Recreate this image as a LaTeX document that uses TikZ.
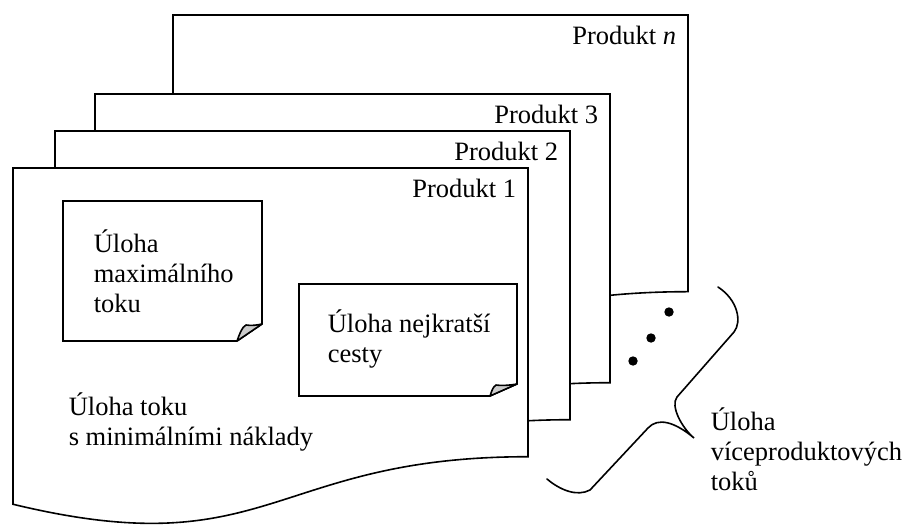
\documentclass[tikz,border=0pt]{standalone}
\usepackage{fontspec}
\setmainfont{Liberation Serif}

\begin{document}
\begin{tikzpicture}[x=1pt,y=-1pt,line width=1.6pt,
   sheet/.style={draw,fill=white},
   note/.style={draw,fill=white},
   fold/.style={draw,fill=gray!40,line join=round},
   label/.style={anchor=base west,inner sep=0pt,align=left,font=\fontsize{26.5}{30}\selectfont},
   tag/.style={anchor=base east,inner sep=0pt,font=\fontsize{26.5}{30}\selectfont}]
   \useasboundingbox (0,0) rectangle (904,525);
   \foreach \x/\y/\h/\nm/\lab in {173/15/345/pn/{Produkt \textit{n}},95/94/360/p3/{Produkt 3},55/131/360/p2/{Produkt 2},13/168/360/p1/{Produkt 1}}
   {
   \draw[sheet] (\x,\y) -- ({\x+515},\y) -- ({\x+515},{\y+0.802*\h}) .. controls ({\x+257.5},{\y+0.802*\h}) and ({\x+257.5},{\y+1.107*\h}) .. (\x,{\y+0.934*\h}) -- cycle;
   \node[tag] (\nm) at ({\x+504},{\y+29}) {\lab};
   }
   \draw[note] (63,201) -- (262,201) -- (262,324) -- (237,341) -- (63,341) -- cycle;
   \draw[fold] (237,341) .. controls (240,333) and (242,327) .. (246,325) .. controls (252,326) and (257,325) .. (262,324) -- cycle;
   \draw[note] (299,284) -- (517,284) -- (517,384) -- (490,396) -- (299,396) -- cycle;
   \draw[fold] (490,396) .. controls (492,390) and (493,387) .. (496,385) .. controls (504,386) and (511,385) .. (517,384) -- cycle;
   \node[label] (maxflow) at (93,312) {Úloha\\maximálního\\toku};
   \node[label] (shortpath) at (327,362) {Úloha nejkratší\\cesty};
   \node[label] (mincost) at (68,445) {Úloha toku\\s minimálními náklady};
   \fill (669,312) circle (4.7pt) (651,338) circle (4.7pt) (633,361) circle (4.7pt);
   \draw[line cap=round] (547,479) .. controls (560,490) and (577,497) .. (590,490) -- (648,428) .. controls (658,417) and (675,422) .. (694,438) .. controls (682,428) and (670,406) .. (677,397) -- (734,332) .. controls (742,322) and (738,300) .. (718,287);
   \node[label] (multi) at (710,490) {Úloha\\víceproduktových\\toků};
\end{tikzpicture}
\end{document}
